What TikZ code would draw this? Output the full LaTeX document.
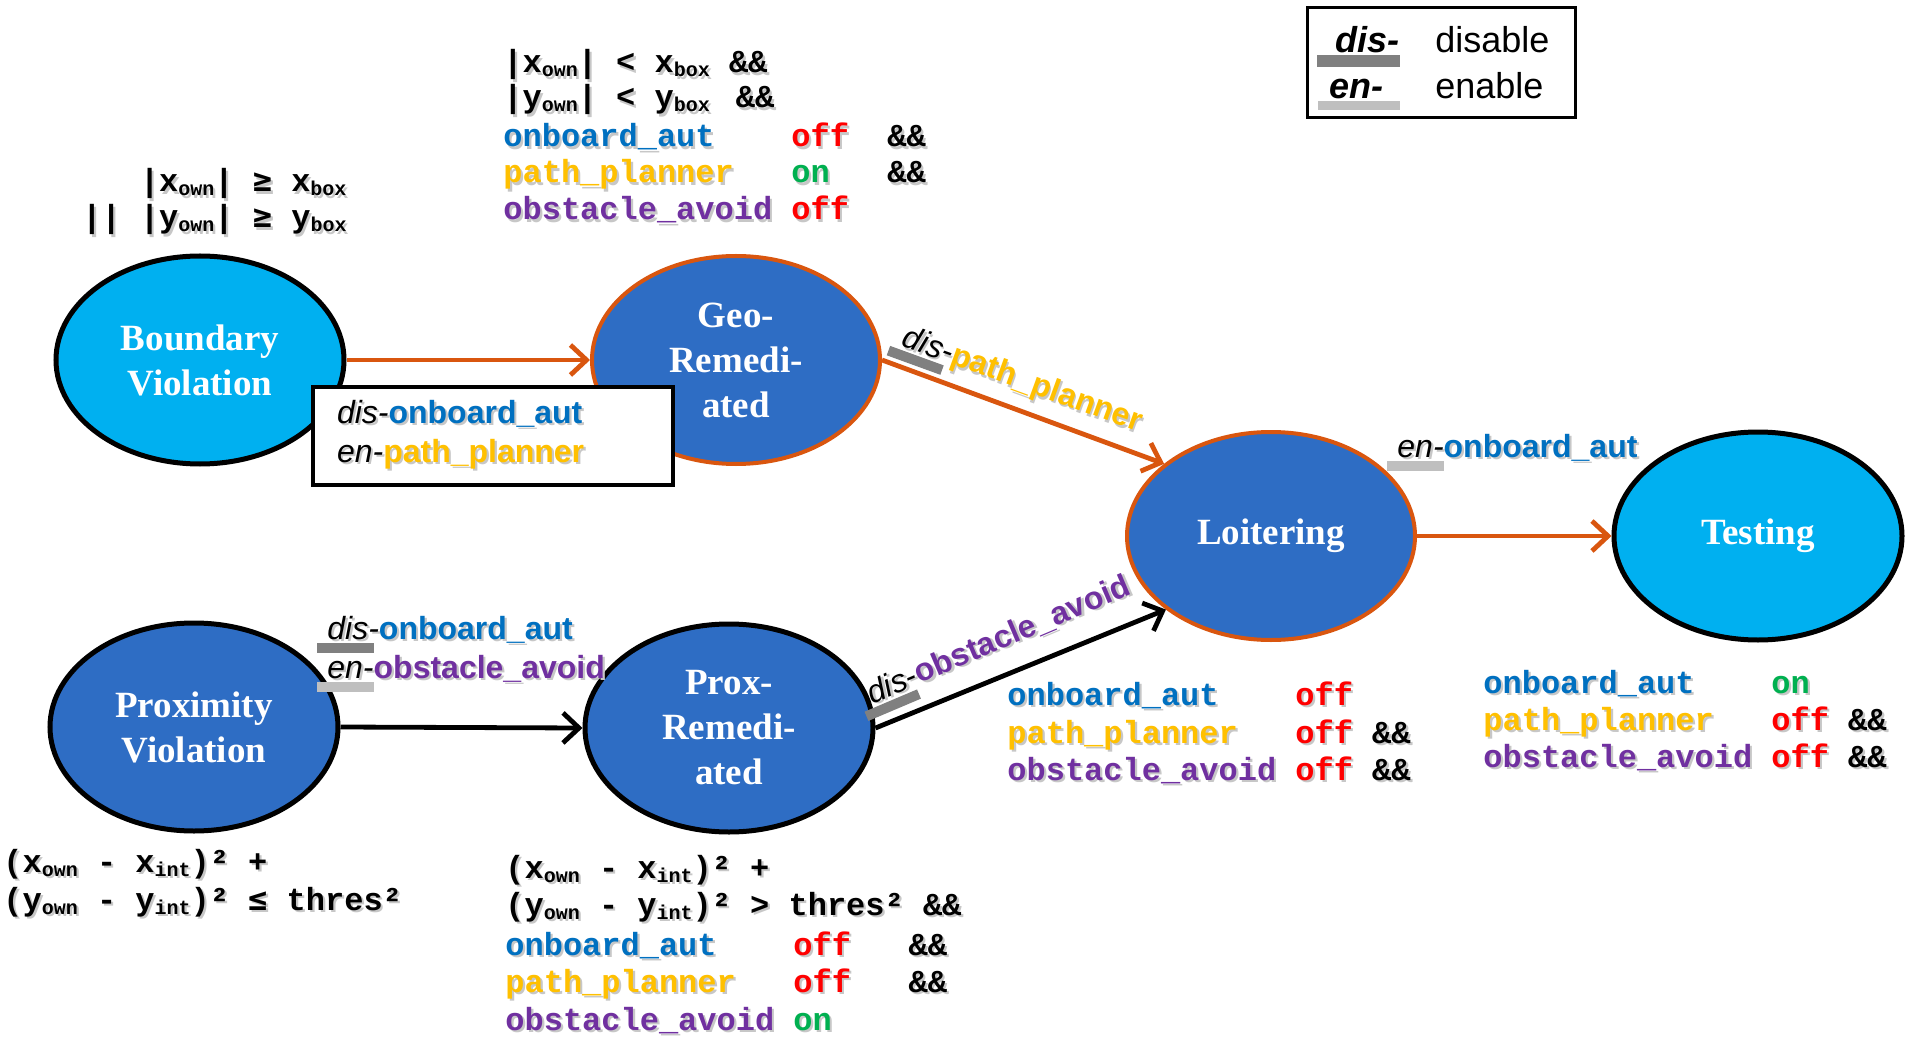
\documentclass[tikz,border=0pt]{standalone}
\usepackage{fontspec}
\setmainfont{Liberation Serif}
\newfontfamily\arialf{Liberation Sans}
\newfontfamily\monof{Liberation Mono}
\newfontfamily\symf{DejaVu Sans Mono}
\usetikzlibrary{arrows.meta,shapes.geometric}

\definecolor{cyanfill}{HTML}{00B0F0}
\definecolor{bluefill}{HTML}{2E6DC4}
\definecolor{orangeln}{HTML}{D9560F}
\definecolor{cOnb}{HTML}{0070C0}
\definecolor{cPath}{HTML}{FFC000}
\definecolor{cObs}{HTML}{7030A0}
\definecolor{cOff}{HTML}{FF0000}
\definecolor{cOn}{HTML}{00B050}
\definecolor{disgray}{HTML}{808080}
\definecolor{engray}{HTML}{BFBFBF}

% one character cell of the 16pt monospaced font
\newlength\chw \setlength\chw{9.6pt}
\newcommand\sbx[1]{\raisebox{-2pt}{\fontsize{10}{10}\selectfont #1}}
\newcommand\cel[2]{\makebox[#1\chw][l]{#2}}
\newcommand\onbv{\textcolor{cOnb}{onboard\_aut}}
\newcommand\pathv{\textcolor{cPath}{path\_planner}}
\newcommand\obsv{\textcolor{cObs}{obstacle\_avoid}}
\newcommand\offv{\textcolor{cOff}{off}}
\newcommand\onv{\textcolor{cOn}{on}}
% prefixes with their marker bars
\newcommand\dispre{\leavevmode\rlap{\kern-5pt\smash{\textcolor{disgray}{\rule[-7pt]{28.5pt}{5pt}}}}\textit{dis-}}
\newcommand\enpre{\leavevmode\rlap{\kern-5pt\smash{\textcolor{engray}{\rule[-7pt]{28.5pt}{5pt}}}}\textit{en-}}
\newcommand\displain{\textit{dis-}}
\newcommand\enplain{\textit{en-}}
% soft drop shadow behind a line of text
\newcommand\shdon{\renewcommand\textcolor[2]{##2}\let\dispre\displain\let\enpre\enplain}
\newcommand\shd[1]{\leavevmode\rlap{\kern1.1pt\raisebox{-1.1pt}{\shdon\color{black!22}#1}}#1}

\begin{document}
\begin{tikzpicture}[x=0.5pt,y=-0.5pt,
  state/.style={ellipse, minimum width=144pt, minimum height=104pt, inner sep=0pt,
    align=center, text=white,
    font=\fontsize{18.5}{22.5}\selectfont\bfseries},
  outerst/.style={state, fill=cyanfill, draw=black, line width=2.5pt},
  remedst/.style={state, fill=bluefill, draw=orangeln, line width=2pt},
  proxst/.style={state, fill=bluefill, draw=black, line width=2.5pt},
  flow/.style={line width=2.4pt, -{Straight Barb[length=8pt,width=15pt]}},
  cond/.style={inner sep=0pt, anchor=base west,
    font=\monof\bfseries\fontsize{16}{18}\selectfont},
  lbl/.style={inner sep=0pt, font=\arialf\fontsize{16}{17.5}\selectfont},
  legtxt/.style={inner sep=0pt, anchor=base west, font=\arialf\fontsize{18}{20}\selectfont},
]
\fill[white] (0,0) rectangle (1905,1037);
\useasboundingbox (0,0) rectangle (1905,1037);

% states
\node[outerst] (bv) at (200,360) {Boundary\\Violation};
\node[remedst] (geo) at (736,360) {Geo-\\Remedi-\\ated};
\node[remedst] (loit) at (1271,536) {Loitering};
\node[outerst] (test) at (1758,536) {Testing};
\node[proxst] (pv) at (194,727) {Proximity\\Violation};
\node[proxst] (prem) at (729,728) {Prox-\\Remedi-\\ated};

% transitions
\draw[flow, orangeln] (bv.east) -- (geo.west);
\draw[flow, orangeln] (geo.east) -- (loit.146);
\draw[flow, orangeln] (loit.east) -- (test.west);
\draw[flow] (pv.east) -- (prem.west);
\draw[flow] (prem.east) -- (loit.215);

% actions on the boundary transition
\node[draw, line width=2pt, fill=white, minimum width=180pt, minimum height=49pt,
  inner xsep=12pt, inner ysep=0pt, text width=156pt, align=left,
  font=\arialf\fontsize{16}{19.5}\selectfont] (acts) at (493,436)
  {\shd{\textit{dis-}\textcolor{cOnb}{\bfseries onboard\_aut}}\\
   \shd{\textit{en-}\textcolor{cPath}{\bfseries path\_planner}}};

% actions on the other transitions
\node[lbl, anchor=base west] (lpa) at (327,639) {\shd{\dispre\textcolor{cOnb}{\bfseries onboard\_aut}}};
\node[lbl, anchor=base west] (lpb) at (327,678) {\shd{\enpre\textcolor{cObs}{\bfseries obstacle\_avoid}}};
\node[lbl, anchor=base west] (llt) at (1397,457) {\shd{\enpre\textcolor{cOnb}{\bfseries onboard\_aut}}};
\node[lbl, rotate=-20] (lgl) at (1022,382) {\shd{\dispre\textcolor{cPath}{\bfseries path\_planner}}};
\node[lbl, rotate=23] (lpl) at (999,641) {\shd{\dispre\textcolor{cObs}{\bfseries obstacle\_avoid}}};

% guard conditions
\node[cond] (ca1) at (82,192) {\shd{\cel{3}{}|x\sbx{own}| {\symf ≥} x\sbx{box}}};
\node[cond] (ca2) at (82,228) {\shd{|| |y\sbx{own}| {\symf ≥} y\sbx{box}}};

\node[cond] (cb1) at (503,73) {\shd{|x\sbx{own}| < x\sbx{box} \&\&}};
\node[cond] (cb2) at (503,108) {\shd{|y\sbx{own}| < y\sbx{box}\hspace{13pt}\&\&}};
\node[cond] (cb3) at (503,147) {\shd{\cel{15}{\onbv}\cel{5}{\offv}\&\&}};
\node[cond] (cb4) at (503,183) {\shd{\cel{15}{\pathv}\cel{5}{\onv}\&\&}};
\node[cond] (cb5) at (503,220) {\shd{\cel{15}{\obsv}\offv}};

\node[cond] (cc1) at (3,872) {\shd{(x\sbx{own} - x\sbx{int})² +}};
\node[cond] (cc2) at (3,910) {\shd{(y\sbx{own} - y\sbx{int})² {\symf ≤} thres²}};

\node[cond] (cd1) at (505,878) {\shd{(x\sbx{own} - x\sbx{int})² +}};
\node[cond] (cd2) at (505,915) {\shd{(y\sbx{own} - y\sbx{int})² > thres² \&\&}};
\node[cond] (cd3) at (505,955) {\shd{\cel{15}{\onbv}\cel{6}{\offv}\&\&}};
\node[cond] (cd4) at (505,992) {\shd{\cel{15}{\pathv}\cel{6}{\offv}\&\&}};
\node[cond] (cd5) at (505,1030) {\shd{\cel{15}{\obsv}\onv}};

\node[cond] (ce1) at (1007,705) {\shd{\cel{15}{\onbv}\offv}};
\node[cond] (ce2) at (1007,743) {\shd{\cel{15}{\pathv}\cel{4}{\offv}\&\&}};
\node[cond] (ce3) at (1007,780) {\shd{\cel{15}{\obsv}\cel{4}{\offv}\&\&}};

\node[cond] (cf1) at (1483,693) {\shd{\cel{15}{\onbv}\onv}};
\node[cond] (cf2) at (1483,730) {\shd{\cel{15}{\pathv}\cel{4}{\offv}\&\&}};
\node[cond] (cf3) at (1483,767) {\shd{\cel{15}{\obsv}\cel{4}{\offv}\&\&}};

% legend
\node[draw, line width=1.5pt, minimum width=134pt, minimum height=55pt, inner sep=0pt] (legend) at (1441,63) {};
\fill[disgray] (1317,55) rectangle (1400,67);
\fill[engray] (1318,101) rectangle (1400,110);
\node[legtxt] (ldis) at (1335,53) {\bfseries\itshape dis-};
\node[legtxt] (len) at (1329,99) {\bfseries\itshape en-};
\node[legtxt] (ldisx) at (1435,53) {disable};
\node[legtxt] (lenx) at (1435,99) {enable};
\end{tikzpicture}
\end{document}
